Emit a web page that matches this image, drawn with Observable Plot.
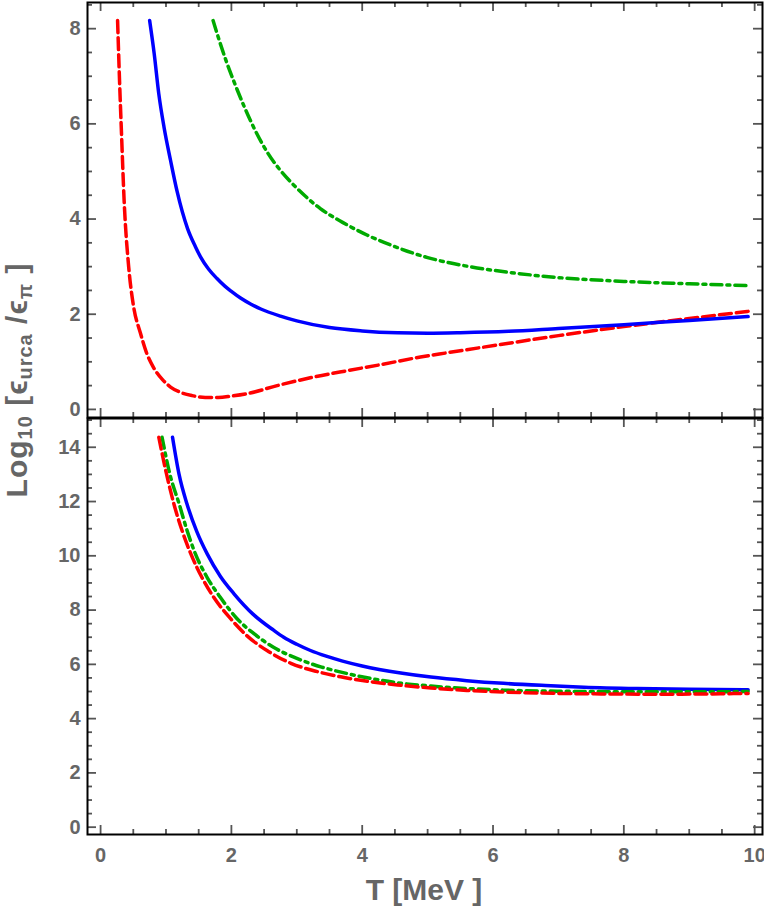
<!DOCTYPE html>
<html>
<head>
<meta charset="utf-8">
<script src="https://cdn.jsdelivr.net/npm/d3@7"></script>
<script src="https://cdn.jsdelivr.net/npm/@observablehq/plot@0.6"></script>
<style>
  body { margin: 0; background: #fff; }
  #wrap { position: relative; width: 764px; height: 911px; font-family: "Liberation Sans", Arial, sans-serif; }
  #wrap svg { display: block; overflow: visible; }
  #titles { position: absolute; left: 0; top: 0; pointer-events: none; }
</style>
</head>
<body>
<div id="wrap"></div>
<script>
// Upper panel: log10(eps_urca / eps_pi) versus T [MeV]
const topRedT   = [0.26, 0.29, 0.32, 0.36, 0.43, 0.50, 0.61, 0.70, 0.81, 0.95, 1.07, 1.22, 1.40, 1.60, 1.80, 2.00, 2.24, 2.70, 3.26, 3.80, 4.28, 4.89, 5.30, 6.24, 7.00, 8.00, 9.00, 9.90];
const topRedV   = [8.17, 6.90, 5.79, 4.39, 2.99, 2.20, 1.60, 1.20, 0.88, 0.62, 0.47, 0.36, 0.29, 0.25, 0.25, 0.28, 0.33, 0.50, 0.68, 0.82, 0.94, 1.10, 1.19, 1.39, 1.55, 1.74, 1.91, 2.06];
const topBlueT  = [0.75, 0.82, 0.89, 0.97, 1.07, 1.17, 1.33, 1.45, 1.53, 1.65, 1.78, 1.90, 2.00, 2.14, 2.30, 2.45, 2.75, 3.00, 3.50, 4.00, 4.54, 5.00, 5.50, 6.24, 7.00, 8.00, 9.00, 9.90];
const topBlueV  = [8.17, 7.47, 6.63, 5.93, 5.23, 4.58, 3.80, 3.42, 3.20, 2.95, 2.75, 2.59, 2.48, 2.34, 2.21, 2.11, 1.96, 1.86, 1.72, 1.65, 1.61, 1.60, 1.61, 1.64, 1.70, 1.78, 1.87, 1.95];
const topGreenT = [1.72, 1.90, 2.05, 2.20, 2.35, 2.55, 2.75, 3.00, 3.36, 3.70, 4.08, 4.50, 5.00, 5.60, 6.24, 7.00, 8.00, 9.00, 9.90];
const topGreenV = [8.17, 7.40, 6.85, 6.35, 5.90, 5.40, 5.02, 4.65, 4.22, 3.93, 3.66, 3.42, 3.19, 3.01, 2.88, 2.77, 2.69, 2.64, 2.60];

// Lower panel
const botRedT   = [0.89, 1.00, 1.12, 1.25, 1.38, 1.55, 1.73, 2.00, 2.24, 2.55, 2.91, 3.30, 3.67, 4.10, 4.54, 5.05, 5.60, 6.16, 7.00, 7.65, 8.50, 9.30, 9.90];
const botRedV   = [14.37, 13.10, 11.92, 10.90, 10.07, 9.20, 8.47, 7.65, 7.05, 6.50, 6.04, 5.74, 5.54, 5.37, 5.24, 5.13, 5.04, 4.98, 4.93, 4.91, 4.90, 4.91, 4.93];
const botBlueT  = [1.10, 1.20, 1.32, 1.47, 1.63, 1.83, 2.04, 2.33, 2.65, 2.80, 3.00, 3.20, 3.45, 3.70, 4.00, 4.59, 5.05, 5.60, 6.16, 6.80, 7.39, 8.20, 9.00, 9.90];
const botBlueV  = [14.37, 13.00, 11.92, 10.90, 10.07, 9.25, 8.60, 7.85, 7.25, 7.00, 6.74, 6.52, 6.30, 6.12, 5.94, 5.68, 5.53, 5.40, 5.30, 5.22, 5.16, 5.11, 5.08, 5.06];
const botGreenT = [0.94, 1.06, 1.20, 1.32, 1.45, 1.63, 1.83, 2.08, 2.34, 2.65, 3.01, 3.38, 3.77, 4.15, 4.54, 5.05, 5.60, 6.16, 7.00, 7.39, 8.50, 9.30, 9.90];
const botGreenV = [14.37, 13.00, 11.92, 10.95, 10.07, 9.20, 8.47, 7.70, 7.14, 6.62, 6.21, 5.90, 5.66, 5.47, 5.32, 5.20, 5.11, 5.05, 5.01, 5.00, 4.99, 4.99, 5.00];

// Tick values
const xMajor = [0, 2, 4, 6, 8, 10];
const topYMajor = [0, 2, 4, 6, 8];
const botYMajor = [0, 2, 4, 6, 8, 10, 12, 14];
const xMinor = d3.range(0, 10.01, 0.5).filter(v => !xMajor.includes(v));
const topYMinor = d3.range(0, 8.51, 0.5).filter(v => !topYMajor.includes(v));
const botYMinor = d3.range(0, 15.01, 0.5).filter(v => !botYMajor.includes(v));

const seriesStyle = {
  red:   {stroke: "#ff0000", strokeDasharray: "12,5"},
  blue:  {stroke: "#0000ff", strokeDasharray: null},
  green: {stroke: "#00aa00", strokeDasharray: "11,5,3,5"}
};

const rows = (T, V) => T.map((t, i) => ({T: t, v: V[i]}));

const W = 764, ML = 87, MR = 2;
const innerW = W - ML - MR;
const tickColor = "#555";
const labelFont = {fontSize: 20, fontWeight: "bold", fill: "#666", fontFamily: "Liberation Sans, Arial, sans-serif"};

// Inward ticks on all four sides of a panel frame
function frameTicks(xTicks, yTicks, size, innerH) {
  const s = {stroke: tickColor, strokeWidth: 1.8};
  return [
    Plot.tickX(xTicks, {x: d => d, insetTop: innerH - size, ...s}),
    Plot.tickX(xTicks, {x: d => d, insetBottom: innerH - size, ...s}),
    Plot.tickY(yTicks, {y: d => d, insetRight: innerW - size, ...s}),
    Plot.tickY(yTicks, {y: d => d, insetLeft: innerW - size, ...s})
  ];
}

function panel({curves, yDomain, yMajor, yMinor, height, marginTop, marginBottom, xLabels}) {
  const innerH = height - marginTop - marginBottom;
  const marks = [];
  for (const c of curves) {
    marks.push(Plot.line(rows(c.T, c.V), {
      x: "T", y: "v", curve: "monotone-x", strokeWidth: 3.5,
      ...seriesStyle[c.key], clip: true
    }));
  }
  marks.push(...frameTicks(xMinor, yMinor, 5, innerH));
  marks.push(...frameTicks(xMajor, yMajor, 9, innerH));
  marks.push(Plot.axisY(yMajor, {anchor: "left", tickSize: 0, tickPadding: 7, label: null, ...labelFont}));
  if (xLabels) {
    marks.push(Plot.axisX(xMajor, {anchor: "bottom", tickSize: 0, tickPadding: 13, label: null, ...labelFont}));
  }
  marks.push(Plot.frame({stroke: "#000", strokeWidth: 2}));
  return Plot.plot({
    width: W,
    height,
    marginLeft: ML,
    marginRight: MR,
    marginTop,
    marginBottom,
    x: {domain: [-0.2, 10.12], axis: null},
    y: {domain: yDomain, axis: null},
    style: {background: "#fff", overflow: "visible"},
    marks
  });
}

const wrap = document.getElementById("wrap");

wrap.appendChild(panel({
  curves: [
    {key: "green", T: topGreenT, V: topGreenV},
    {key: "red", T: topRedT, V: topRedV},
    {key: "blue", T: topBlueT, V: topBlueV}
  ],
  yDomain: [-0.17, 8.55], yMajor: topYMajor, yMinor: topYMinor,
  height: 418, marginTop: 2, marginBottom: 1, xLabels: false
}));

wrap.appendChild(panel({
  curves: [
    {key: "blue", T: botBlueT, V: botBlueV},
    {key: "green", T: botGreenT, V: botGreenV},
    {key: "red", T: botRedT, V: botRedV}
  ],
  yDomain: [-0.27, 15.06], yMajor: botYMajor, yMinor: botYMinor,
  height: 493, marginTop: 0, marginBottom: 77, xLabels: true
}));

// Shared axis titles
const ns = "http://www.w3.org/2000/svg";
const titles = document.createElementNS(ns, "svg");
titles.setAttribute("id", "titles");
titles.setAttribute("width", 764);
titles.setAttribute("height", 911);
titles.innerHTML = `
  <g font-family="Liberation Sans, Arial, sans-serif" font-weight="bold" fill="#666">
    <text transform="translate(27,380) rotate(-90)" text-anchor="middle" font-size="30" letter-spacing="1">Log<tspan font-size="20" dy="5">10</tspan><tspan dy="-5"> [ϵ</tspan><tspan font-size="20" dy="5">urca</tspan><tspan dy="-5"> /ϵ</tspan><tspan font-size="20" dy="5">π</tspan><tspan dy="-5"> ]</tspan></text>
    <text x="424" y="900" text-anchor="middle" font-size="30">T [MeV ]</text>
  </g>`;
wrap.appendChild(titles);
</script>
</body>
</html>
